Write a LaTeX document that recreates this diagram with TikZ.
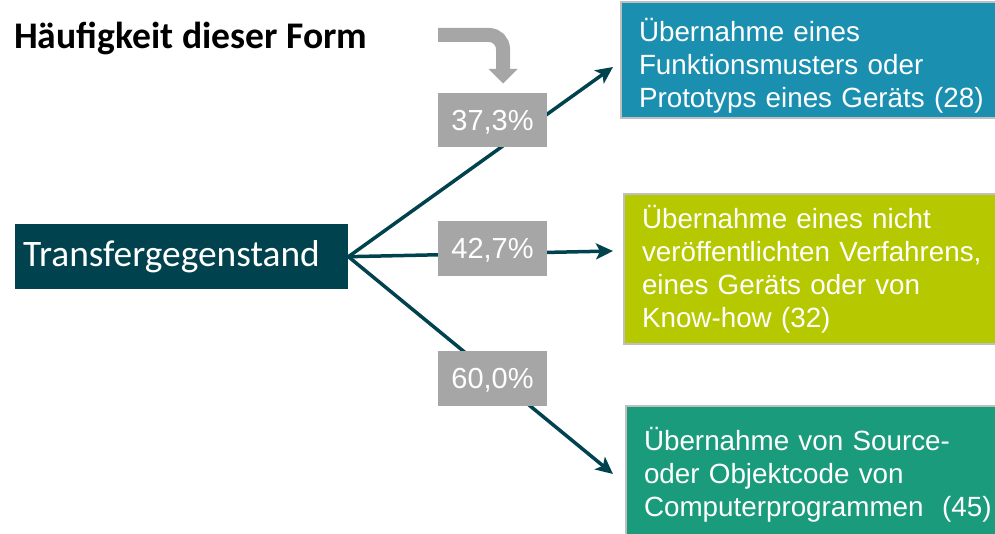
\documentclass[tikz,border=0pt]{standalone}
\usepackage{fontspec}
\setmainfont{Liberation Sans}
\newfontfamily\calib{Carlito}
\usetikzlibrary{arrows.meta}
\definecolor{dteal}{RGB}{0,67,79}
\definecolor{pgray}{RGB}{166,166,166}
\definecolor{bgray}{RGB}{191,191,191}
\definecolor{cblue}{RGB}{27,143,175}
\definecolor{clime}{RGB}{181,200,0}
\definecolor{cgreen}{RGB}{26,155,124}
\tikzset{
  catbox/.style={draw=bgray, line width=2pt, anchor=north west, inner xsep=18pt, inner ysep=0pt,
    text width=380pt, align=left, text=white, font=\fontsize{27.8}{33}\selectfont},
  pctbox/.style={fill=pgray, minimum width=109pt, minimum height=55pt, inner sep=0pt,
    text=white, text depth=0pt, font=\fontsize{29}{30}\selectfont},
  conn/.style={draw=dteal, line width=3.5pt, -{Stealth[length=17pt,width=16pt,inset=4pt]}}
}
\begin{document}
\begin{tikzpicture}[x=1pt,y=-1pt]
\useasboundingbox (0,0) rectangle (995,534);
% heading
\node[anchor=base west, inner sep=0pt, font=\calib\bfseries\fontsize{37.6}{40}\selectfont] (head) at (14,49) {Häufigkeit dieser Form};
% source
\node[fill=dteal, anchor=north west, minimum width=333pt, minimum height=65pt, inner xsep=8pt, inner ysep=0pt,
  text width=317pt, align=left, text=white, font=\calib\fontsize{37.4}{40}\selectfont] (src) at (15,224) {Transfergegenstand};
% category boxes
\node[catbox, fill=cblue, minimum height=116pt] (b1) at (620,1)
  {\rule{0pt}{35pt}Übernahme eines\\Funktionsmusters oder\\Prototyps eines Geräts (28)};
\node[catbox, fill=clime, minimum height=150pt] (b2) at (623,193)
  {Übernahme eines nicht\\veröffentlichten Verfahrens,\\eines Geräts oder von\\Know-how (32)};
\node[catbox, fill=cgreen, minimum height=138pt] (b3) at (625,405)
  {Übernahme von Source-\\oder Objektcode von\\Computerprogrammen\ \ (45)};
% connector ends
\coordinate (e1) at (613,67);
\coordinate (e2) at (613,251);
\coordinate (e3) at (613,474);
\draw[conn] (src.east) -- (e1);
\draw[conn] (src.east) -- (e2);
\draw[conn] (src.east) -- (e3);
% percentages
\node[pctbox, minimum height=54pt] (p1) at (492.5,120) {37,3\%};
\node[pctbox] (p2) at (492.5,248.5) {42,7\%};
\node[pctbox] (p3) at (492.5,378.5) {60,0\%};
% curved arrow
\draw[pgray, line width=14pt, rounded corners=14pt] (438,35) -- (503,35) -- (503,70);
\fill[pgray] (488.5,69) -- (517.5,69) -- (503,83.5) -- cycle;
\end{tikzpicture}
\end{document}
